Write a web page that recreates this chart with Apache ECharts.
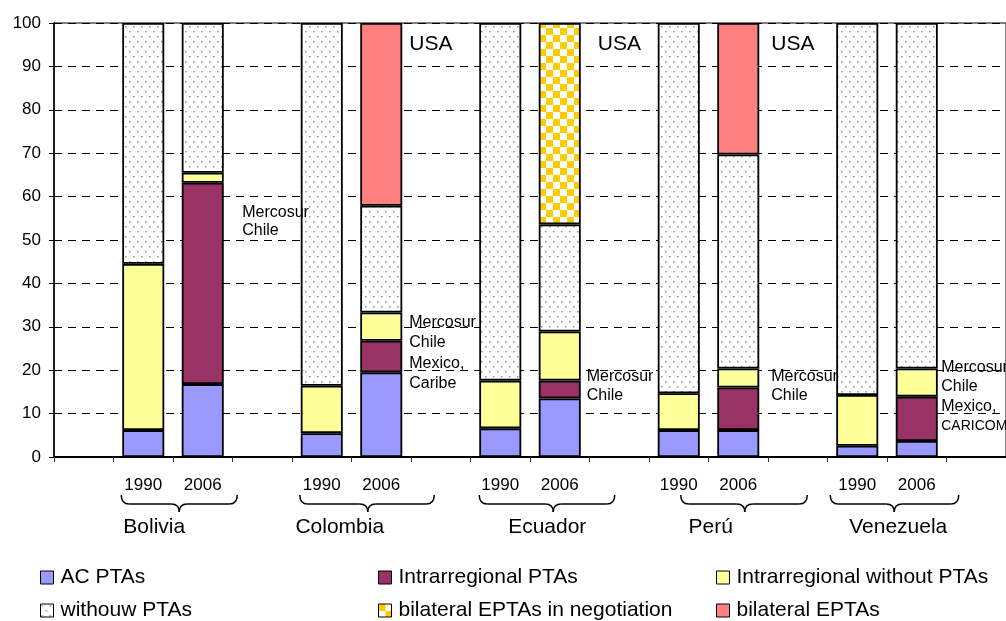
<!DOCTYPE html>
<html><head><meta charset="utf-8">
<script src="https://cdn.jsdelivr.net/npm/echarts@6/dist/echarts.min.js"></script>
<style>html,body{margin:0;padding:0;background:#fff}#c{width:1006px;height:621px}</style>
</head><body><div id="c"></div>
<script>
// ---------- DATA ----------
const countries = ['Bolivia', 'Colombia', 'Ecuador', 'Perú', 'Venezuela'];
const years = ['1990', '2006'];
const yTicks = [0, 10, 20, 30, 40, 50, 60, 70, 80, 90, 100];
// bar order: Bolivia 1990, Bolivia 2006, Colombia 1990, Colombia 2006, ... Venezuela 2006
const acPTAs               = [6.2, 16.8, 5.5, 19.5, 6.6, 13.5, 6.2, 6.2, 2.6, 3.7];
const intraPTAs            = [0, 46.4, 0, 7.3, 0, 4.1, 0, 9.8, 0, 10.2];
const intraWithoutPTAs     = [38.3, 2.3, 10.9, 6.5, 11.0, 11.3, 8.5, 4.4, 11.7, 6.5];
const withouwPTAs          = [55.5, 34.5, 83.6, 24.6, 82.4, 24.7, 85.3, 49.3, 85.7, 79.6];
const bilateralNegotiation = [0, 0, 0, 0, 0, 46.4, 0, 0, 0, 0];
const bilateralEPTAs       = [0, 0, 0, 42.1, 0, 0, 0, 30.3, 0, 0];
const seriesNames = ['AC PTAs', 'Intrarregional PTAs', 'Intrarregional without PTAs',
  'withouw PTAs', 'bilateral EPTAs in negotiation', 'bilateral EPTAs'];
// annotation texts, attached to a bar index
const noteBars  = [1, 3, 3, 5, 5, 7, 7, 9];
const noteTexts = [
  ['Mercosur', 'Chile'],
  ['USA'],
  ['Mercosur', 'Chile', 'Mexico,', 'Caribe'],
  ['USA'],
  ['Mercosur', 'Chile'],
  ['USA'],
  ['Mercosur', 'Chile'],
  ['Mercosur', 'Chile', 'Mexico,', 'CARICOM']
];

// ---------- LAYOUT / STYLE (not data) ----------
const FONT = 'Liberation Sans, Arial, sans-serif';
const noteLayout = [ // dx from bar centre (px), anchor on value axis, line height, font sizes
  {dx: 39.5, v: 56.4, lh: 18.5, fs: [16, 16]},
  {dx: 28, v: 95, lh: 0, fs: [21]},
  {dx: 28, v: 31.0, lh: 20.4, fs: [16, 16, 16, 16]},
  {dx: 38, v: 95, lh: 0, fs: [21]},
  {dx: 27, v: 18.6, lh: 19.5, fs: [16, 16]},
  {dx: 33, v: 95, lh: 0, fs: [21]},
  {dx: 33, v: 18.6, lh: 19.5, fs: [16, 16]},
  {dx: 24.5, v: 20.7, lh: 19.8, fs: [16, 16, 16, 14]}
];
const braceLayout = [ // start offset from 1990 centre, end offset from 2006 centre, tip offset from 1990 centre
  [-22, 34.5, 36], [-22, 53, 46], [-21, 55, 53], [2, 69, 66], [-27, 42, 37]
];
const countryDx = [11, 18, 47, 32, 41];

// ---------- PATTERNS ----------
function dotPattern() {
  const c = document.createElement('canvas'); c.width = 8; c.height = 10;
  const g = c.getContext('2d');
  g.fillStyle = '#fff'; g.fillRect(0, 0, 8, 10);
  g.fillStyle = '#8f8f8f';
  g.fillRect(1, 1, 1.5, 1.5); g.fillRect(5, 6, 1.5, 1.5);
  return {image: c, repeat: 'repeat'};
}
function checkPattern() {
  const c = document.createElement('canvas'); c.width = 14; c.height = 14;
  const g = c.getContext('2d');
  g.fillStyle = '#fff'; g.fillRect(0, 0, 14, 14);
  g.fillStyle = '#FFCC00';
  g.fillRect(0, 0, 7, 7); g.fillRect(7, 7, 7, 7);
  return {image: c, repeat: 'repeat'};
}
const fills = ['#9999FF', '#993366', '#FFFF99', dotPattern(), checkPattern(), '#FF8080'];
const valueLists = [acPTAs, intraPTAs, intraWithoutPTAs, withouwPTAs, bilateralNegotiation, bilateralEPTAs];

// ---------- BUILD ----------
const slotOf = b => 1 + Math.floor(b / 2) * 3 + (b % 2);
const cats = [];
countries.forEach((c, i) => { cats.push('gap' + i, c + ' ' + years[0], c + ' ' + years[1]); });
cats.push('gap' + countries.length);

const series = seriesNames.map((name, si) => {
  const data = new Array(cats.length).fill(null);
  valueLists[si].forEach((v, b) => { data[slotOf(b)] = v === 0 ? null : v; });
  return {
    name, type: 'bar', stack: 'total', data, barWidth: 42,
    itemStyle: {color: fills[si], borderColor: '#000', borderWidth: 1.8},
    emphasis: {disabled: true}
  };
});

function legendCol(names, left) {
  return {
    data: names, left, top: 567, orient: 'vertical', padding: 0,
    itemWidth: 13, itemHeight: 13, itemGap: 12, icon: 'rect', selectedMode: false,
    itemStyle: {borderColor: '#000', borderWidth: 1},
    textStyle: {fontSize: 21, fontFamily: FONT, color: '#000', padding: [0, 0, 0, 2]}
  };
}

const chart = echarts.init(document.getElementById('c'), null, {renderer: 'canvas'});
chart.setOption({
  animation: false,
  backgroundColor: '#fff',
  grid: {left: 54, right: -2, top: 23, bottom: 164, show: true, borderColor: '#000', borderWidth: 1, backgroundColor: 'transparent'},
  xAxis: {
    type: 'category', data: cats, boundaryGap: true,
    axisLine: {lineStyle: {color: '#000', width: 2}},
    axisTick: {show: true, length: 5, interval: 0, lineStyle: {color: '#333', width: 1}},
    axisLabel: {interval: 0, margin: 20, fontSize: 17, fontFamily: FONT, color: '#000',
      formatter: v => v.startsWith('gap') ? '' : v.split(' ').pop()}
  },
  yAxis: {
    type: 'value', min: yTicks[0], max: yTicks[yTicks.length - 1], interval: yTicks[1] - yTicks[0],
    axisLine: {show: true, lineStyle: {color: '#000', width: 1.5}},
    axisTick: {show: true, length: 5, lineStyle: {color: '#000'}},
    axisLabel: {margin: 13, fontSize: 17, fontFamily: FONT, color: '#000'},
    splitLine: {show: true, lineStyle: {color: '#000', width: 1, type: [8, 6]}}
  },
  legend: [
    legendCol([seriesNames[0], seriesNames[3]], 40),
    legendCol([seriesNames[1], seriesNames[4]], 378),
    legendCol([seriesNames[2], seriesNames[5]], 716)
  ],
  series
});

// ---------- ANNOTATIONS ----------
const px = (slot, v) => chart.convertToPixel({gridIndex: 0}, [slot, v]);
const graphics = [];
const y0 = px(0, 0)[1];
const stroke = {fill: null, stroke: '#000', lineWidth: 1.5};
countries.forEach((c, ci) => {
  const c1 = px(slotOf(ci * 2), 0)[0];
  const c2 = px(slotOf(ci * 2 + 1), 0)[0];
  const [s, e, t] = braceLayout[ci];
  const x0 = c1 + s, x1 = c2 + e, xt = c1 + t, r = 8;
  const yT = y0 + 38, yL = y0 + 47, yP = y0 + 55;
  const curve = (ax, ay, cx, cy, bx, by) => ({type: 'bezierCurve', silent: true, z: 100,
    shape: {x1: ax, y1: ay, cpx1: cx, cpy1: cy, x2: bx, y2: by}, style: stroke});
  const line = (ax, ay, bx, by) => ({type: 'line', silent: true, z: 100,
    shape: {x1: ax, y1: ay, x2: bx, y2: by}, style: stroke});
  graphics.push(
    curve(x0, yT, x0, yL, x0 + r, yL),
    line(x0 + r, yL, xt - r, yL),
    curve(xt - r, yL, xt, yL, xt, yP),
    curve(xt, yP, xt, yL, xt + r, yL),
    line(xt + r, yL, x1 - r, yL),
    curve(x1 - r, yL, x1, yL, x1, yT)
  );
  graphics.push({
    type: 'text', silent: true, z: 100, x: c1 + countryDx[ci], y: y0 + 70,
    style: {text: c, font: `21px ${FONT}`, fill: '#000', align: 'center', verticalAlign: 'middle'}
  });
});
noteTexts.forEach((lines, ni) => {
  const L = noteLayout[ni];
  const [bx, by] = px(slotOf(noteBars[ni]), L.v);
  lines.forEach((txt, li) => {
    graphics.push({
      type: 'text', silent: true, z: 100, x: bx + L.dx, y: by + li * L.lh,
      style: {text: txt, font: `${L.fs[li]}px ${FONT}`, fill: '#000', align: 'left', verticalAlign: 'middle'}
    });
  });
});
chart.setOption({graphic: graphics});
</script>
</body></html>
